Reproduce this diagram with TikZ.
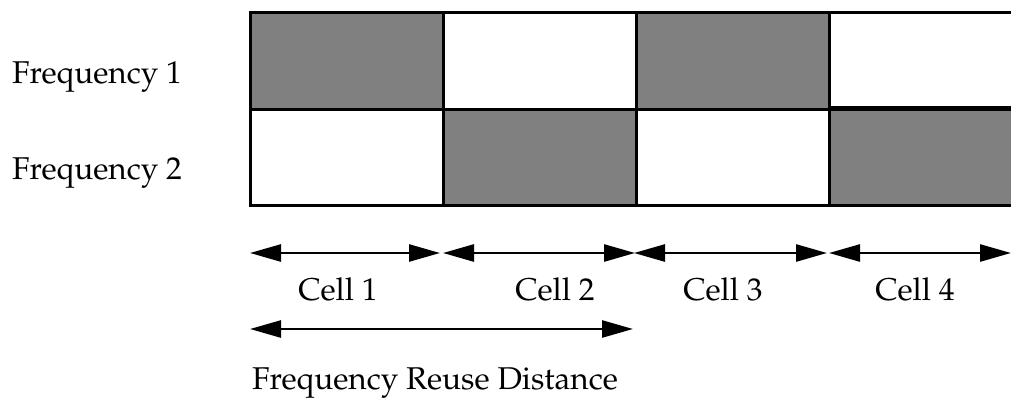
\documentclass[tikz,border=0pt]{standalone}
\usepackage[T1]{fontenc}
\usepackage{mathpazo}
\usetikzlibrary{arrows.meta}
\tikzset{
  cellbox/.style={draw=black, line width=3pt},
  shaded/.style={cellbox, fill=black!50},
  blank/.style={cellbox, fill=white},
  span/.style={line width=2.6pt, {Triangle[length=31pt,width=17pt]}-{Triangle[length=31pt,width=17pt]}},
  lbl/.style={font=\fontsize{31.5}{32}\selectfont, inner sep=0pt}
}
\begin{document}
\begin{tikzpicture}[x=1pt,y=1pt]
\useasboundingbox (0,0) rectangle (1011,400);
\clip (0,0) rectangle (1011,400);
% cell grid: two frequency rows, four cells
\path[shaded] (250,291) rectangle (443,387);
\path[blank]  (443,291) rectangle (636,387);
\path[shaded] (636,291) rectangle (829,387);
\path[blank]  (829,291) rectangle (1022,387);
\path[blank]  (250,195) rectangle (443,291);
\path[shaded] (443,195) rectangle (636,291);
\path[blank]  (636,195) rectangle (829,291);
\path[shaded] (829,195) rectangle (1022,291);
\draw[line width=4.5pt] (829,292) -- (1022,292);
% row labels
\node[lbl, anchor=base west] (f1) at (12,317) {Frequency 1};
\node[lbl, anchor=base west] (f2) at (12,221) {Frequency 2};
% cell extents
\coordinate (a0) at (250,147);
\coordinate (a1) at (440,147);
\coordinate (b0) at (443,147);
\coordinate (b1) at (635,147);
\coordinate (c0) at (634,147);
\coordinate (c1) at (827,147);
\coordinate (d0) at (829,147);
\coordinate (d1) at (1011,147);
\draw[span] (a0) -- (a1);
\draw[span] (b0) -- (b1);
\draw[span] (c0) -- (c1);
\draw[span] (d0) -- (d1);
\node[lbl, anchor=base] (l1) at (338,100) {Cell 1};
\node[lbl, anchor=base] (l2) at (555,100) {Cell 2};
\node[lbl, anchor=base] (l3) at (723,100) {Cell 3};
\node[lbl, anchor=base] (l4) at (915,100) {Cell 4};
% reuse distance
\coordinate (r0) at (250,71);
\coordinate (r1) at (633,71);
\draw[span] (r0) -- (r1);
\node[lbl, anchor=base west] (rd) at (252,11) {Frequency Reuse Distance};
\end{tikzpicture}
\end{document}
